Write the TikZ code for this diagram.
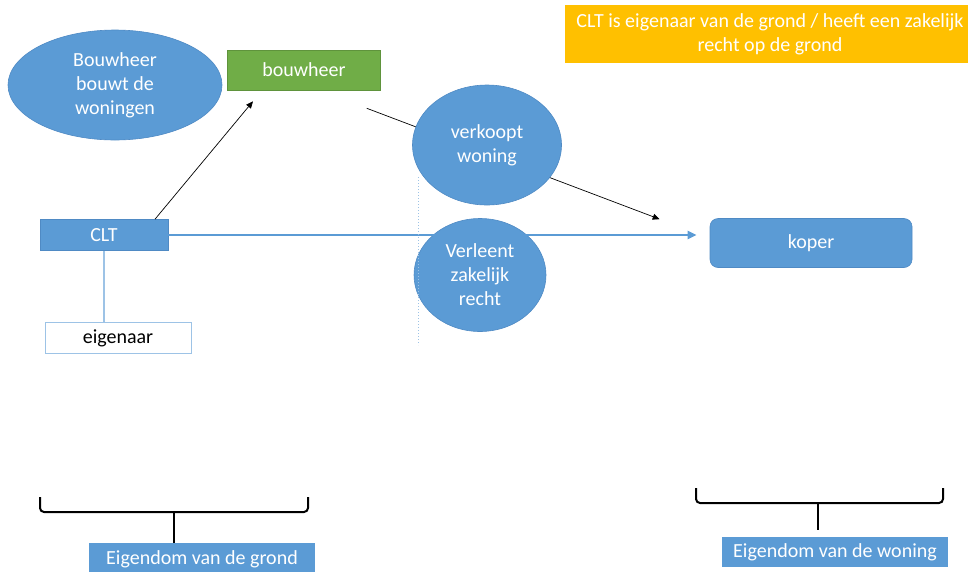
\documentclass[tikz,border=0pt]{standalone}
\usepackage{fontspec}
\setmainfont{Carlito}
\usepackage{tikz}
\usetikzlibrary{arrows.meta,shapes.geometric,backgrounds}
\definecolor{CB}{HTML}{5B9BD5}
\definecolor{CE}{HTML}{4F8AC4}
\definecolor{CG}{HTML}{70AD47}
\definecolor{CO}{HTML}{FFC000}
\definecolor{CL}{HTML}{9DC3E6}

\tikzset{
  box/.style={fill=CB,draw=CE,line width=.6pt,text=white,inner sep=0pt,align=center},
  oval/.style={box,ellipse},
  tag/.style={box,draw=none},
  thin arrow/.style={line width=.7pt,-{Triangle[length=7pt,width=6pt]}},
  brace/.style={line width=2pt,rounded corners=4pt}
}

\begin{document}
\begin{tikzpicture}[x=1pt,y=-1pt,font=\fontsize{20}{24}\selectfont]
\useasboundingbox (0,0) rectangle (968,571);
% parties
\node[oval,minimum width=214pt,minimum height=110pt] (bouwt) at (115,85) {Bouwheer\\bouwt de\\woningen};
\node[box,fill=CG,draw=CG!85!black,minimum width=153pt,minimum height=40pt] (bw) at (304,70) {bouwheer};
\node[box,minimum width=128pt,minimum height=31pt] (clt) at (104,235) {CLT};
\node[box,fill=white,draw=CL,text=black,line width=1pt,minimum width=146pt,minimum height=31pt] (eig) at (118,338) {eigenaar};
\node[box,rounded corners=8pt,minimum width=202pt,minimum height=49pt] (kp) at (811,243) {koper};
\node[tag,fill=CO,minimum width=410pt,minimum height=58pt] (info) at (770,34) {CLT is eigenaar van de grond / heeft een zakelijk\\recht op de grond};
% connectors
\begin{scope}[on background layer]
\draw[thin arrow] ([shift={(-14pt,-18pt)}]bw.south east) -- ([shift={(-50pt,-1pt)}]kp.north west);
\end{scope}
\draw[thin arrow] ([xshift=51pt]clt.north) -- ([shift={(-51pt,-11pt)}]bw.south);
\draw[CL,line width=1.2pt] (clt.south) -- (clt.south |- eig.north);
\node[oval,minimum width=149pt,minimum height=120pt] (verk) at (487,145) {verkoopt\\woning};
\node[oval,minimum width=132pt,minimum height=113pt] (verl) at (480,275) {Verleent\\zakelijk\\recht};
\draw[CB,line width=2.2pt,-{Triangle[length=9pt,width=8pt]}] (clt.east) -- ([xshift=-13pt]clt.east -| kp.west);
\draw[CL,line width=1pt,dotted] (418,177) -- (418,345);
% braces
\node[tag,minimum width=226pt,minimum height=32pt] (lg) at (202,559) {Eigendom van de grond};
\node[tag,minimum width=226pt,minimum height=30pt] (lw) at (835,552) {Eigendom van de woning};
\draw[brace] (40,497) -- (40,512) -- (308,512) -- (308,497);
\coordinate (bg) at (174,512);
\draw[line width=2pt] (bg) -- (bg |- lg.north);
\draw[brace] (696,488) -- (696,503) -- (943,503) -- (943,488);
\coordinate (bwn) at (818,503);
\draw[line width=2pt] (bwn) -- ([yshift=7pt]bwn |- lw.north);
\end{tikzpicture}
\end{document}
